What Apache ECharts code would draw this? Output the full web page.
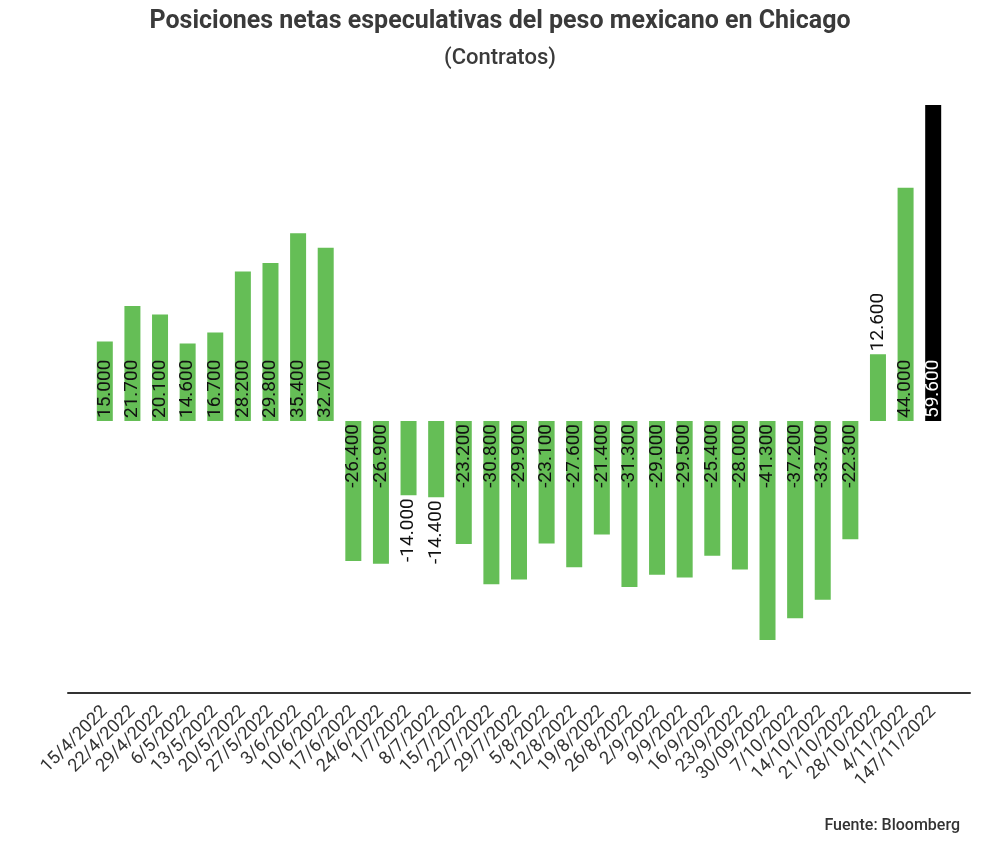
<!DOCTYPE html>
<html>
<head>
<meta charset="utf-8">
<script src="https://cdn.jsdelivr.net/npm/echarts@6/dist/echarts.min.js"></script>
<style>
  html, body { margin: 0; padding: 0; background: #fff; }
  #main { width: 1000px; height: 850px; }
</style>
</head>
<body>
<div id="main"></div>
<script>
// fechas semanales (tal cual aparecen en el gráfico)
var fechas = ['15/4/2022','22/4/2022','29/4/2022','6/5/2022','13/5/2022','20/5/2022',
  '27/5/2022','3/6/2022','10/6/2022','17/6/2022','24/6/2022','1/7/2022','8/7/2022',
  '15/7/2022','22/7/2022','29/7/2022','5/8/2022','12/8/2022','19/8/2022','26/8/2022',
  '2/9/2022','9/9/2022','16/9/2022','23/9/2022','30/09/2022','7/10/2022','14/10/2022',
  '21/10/2022','28/10/2022','4/11/2022','147/11/2022'];

// posiciones netas (contratos)
var posiciones = [15000, 21700, 20100, 14600, 16700, 28200, 29800, 35400, 32700,
  -26400, -26900, -14000, -14400, -23200, -30800, -29900, -23100, -27600, -21400,
  -31300, -29000, -29500, -25400, -28000, -41300, -37200, -33700, -22300,
  12600, 44000, 59600];

var verde = '#65be56';
var ultimo = posiciones.length - 1;

function fmt(v){
  var s = Math.abs(v).toString().replace(/\B(?=(\d{3})+(?!\d))/g, '.');
  return (v < 0 ? '-' : '') + s;
}

var datos = posiciones.map(function(v, i){
  var fuera = Math.abs(v) < 14500; // barra muy corta, etiqueta fuera
  var pos, align;
  if (v >= 0) {
    pos = fuera ? 'top' : 'insideBottom';
    align = 'left';
  } else {
    pos = fuera ? 'bottom' : 'insideTop';
    align = 'right';
  }
  return {
    value: v,
    itemStyle: { color: i === ultimo ? '#000' : verde },
    label: {
      position: pos,
      align: align,
      color: (i === ultimo && !fuera) ? '#fff' : '#111'
    }
  };
});

var chart = echarts.init(document.getElementById('main'));

chart.setOption({
  backgroundColor: '#fff',
  animation: false,
  title: [{
    text: 'Posiciones netas especulativas del peso mexicano en Chicago',
    left: 'center', top: 4,
    textStyle: { fontFamily: 'Roboto', fontSize: 25, fontWeight: 'bold', color: '#3a3a3a' }
  }, {
    text: '(Contratos)',
    left: 'center', top: 42,
    textStyle: { fontFamily: 'Roboto', fontSize: 22, fontWeight: 500, color: '#3a3a3a' }
  }, {
    text: 'Fuente: Bloomberg',
    right: 35, bottom: 11,
    textStyle: { fontFamily: 'Roboto', fontSize: 16, fontWeight: 500, color: '#333' }
  }],
  grid: [
    { left: 91, right: 53, top: 105, bottom: 157 },
    { left: 68, right: 30, top: 105, bottom: 157 }
  ],
  xAxis: [{
    type: 'category',
    gridIndex: 0,
    data: fechas,
    axisLine: { show: false },
    axisTick: { show: false },
    axisLabel: {
      interval: 0,
      rotate: 45,
      margin: 16,
      fontFamily: 'Roboto',
      fontSize: 18,
      color: '#333'
    }
  }, {
    type: 'value',
    gridIndex: 1,
    axisLine: { show: true, onZero: false, lineStyle: { color: '#333', width: 2 } },
    axisTick: { show: false },
    axisLabel: { show: false },
    splitLine: { show: false }
  }],
  yAxis: [{
    type: 'value',
    gridIndex: 0,
    min: -51300,
    max: 59600,
    show: false,
    splitLine: { show: false }
  }, {
    type: 'value',
    gridIndex: 1,
    show: false,
    splitLine: { show: false }
  }],
  series: [{
    type: 'bar',
    xAxisIndex: 0,
    yAxisIndex: 0,
    barWidth: 16,
    data: datos,
    label: {
      show: true,
      rotate: 90,
      verticalAlign: 'middle',
      distance: 3,
      fontFamily: 'Roboto',
      fontSize: 19,
      formatter: function(p){ return fmt(p.value); }
    }
  }]
});
</script>
</body>
</html>
